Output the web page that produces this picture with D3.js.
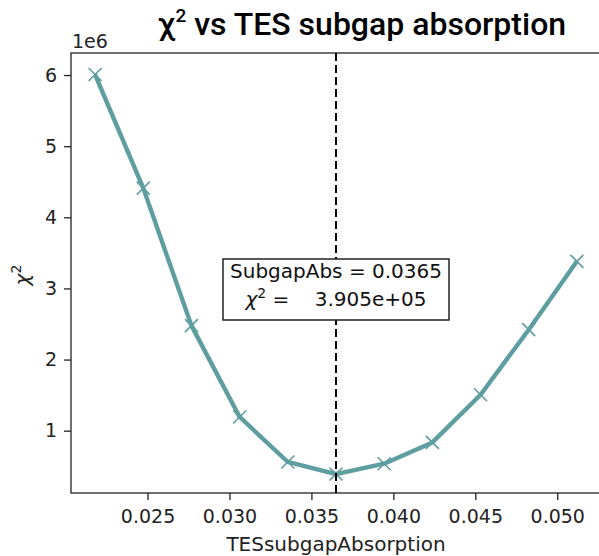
<!DOCTYPE html>
<html>
<head>
<meta charset="utf-8">
<script src="https://cdn.jsdelivr.net/npm/d3@7"></script>
<style>
  html, body { margin: 0; padding: 0; background: #fff; }
  svg { display: block; }
</style>
</head>
<body>
<div id="chart"></div>
<script>
// Scan of TES subgap absorption vs chi-squared
const absorption = [0.0218, 0.02474, 0.02768, 0.03062, 0.03356, 0.0365, 0.03944, 0.04238, 0.04532, 0.04826, 0.0512];
const chi2 = [6.007e6, 4.41e6, 2.477e6, 1.193e6, 0.56e6, 0.3905e6, 0.536e6, 0.835e6, 1.506e6, 2.42e6, 3.381e6];
const xTicks = [0.025, 0.030, 0.035, 0.040, 0.045, 0.050];
const yTicks = [1e6, 2e6, 3e6, 4e6, 5e6, 6e6];
const bestAbs = 0.0365;
const bestChi2 = 3.905e5;

const W = 599, H = 556;
const plot = { left: 71, right: 601, top: 53, bottom: 493 };
const labelFont = "'DejaVu Sans', sans-serif";

const svg = d3.select("#chart").append("svg").attr("width", W).attr("height", H);

const x = d3.scaleLinear().domain([0.02033, 0.05267]).range([plot.left, plot.right]);
const y = d3.scaleLinear().domain([0.124e6, 6.31e6]).range([plot.bottom, plot.top]);

// frame
svg.append("rect")
  .attr("x", plot.left).attr("y", plot.top)
  .attr("width", plot.right - plot.left).attr("height", plot.bottom - plot.top)
  .attr("fill", "none").attr("stroke", "#222").attr("stroke-width", 1.3);

// axes
const xAxis = svg.append("g").attr("transform", `translate(0,${plot.bottom})`)
  .call(d3.axisBottom(x).tickValues(xTicks).tickFormat(d3.format(".3f")).tickSize(7).tickPadding(10));
const yAxis = svg.append("g").attr("transform", `translate(${plot.left},0)`)
  .call(d3.axisLeft(y).tickValues(yTicks).tickFormat(d => d3.format("d")(d / 1e6)).tickSize(7).tickPadding(7));
[xAxis, yAxis].forEach(g => {
  g.select(".domain").remove();
  g.selectAll(".tick line").attr("stroke", "#222").attr("stroke-width", 1.3);
  g.selectAll(".tick text").attr("fill", "#222").style("font-family", labelFont).style("font-size", "19px");
});

// offset label for the y axis
svg.append("text").attr("x", plot.left + 1).attr("y", 48)
  .style("font-family", labelFont).style("font-size", "19px").attr("fill", "#222").text("1e6");

// curve
const line = d3.line().x((d, i) => x(absorption[i])).y(d => y(d));
svg.append("path").datum(chi2)
  .attr("d", line).attr("fill", "none")
  .attr("stroke", "#5f9ea0").attr("stroke-width", 4.4)
  .attr("stroke-linejoin", "round");

// x markers
const ms = 6.5;
svg.append("g").selectAll("path").data(chi2).join("path")
  .attr("d", (d, i) => {
    const cx = x(absorption[i]), cy = y(d);
    return `M${cx - ms},${cy - ms}L${cx + ms},${cy + ms}M${cx - ms},${cy + ms}L${cx + ms},${cy - ms}`;
  })
  .attr("stroke", "#5f9ea0").attr("stroke-width", 1.6).attr("fill", "none");

// best-fit marker line
svg.append("line")
  .attr("x1", x(bestAbs)).attr("x2", x(bestAbs))
  .attr("y1", plot.top).attr("y2", plot.bottom)
  .attr("stroke", "#000").attr("stroke-width", 2).attr("stroke-dasharray", "8,4");

// annotation box
const box = svg.append("g");
const bx = 223, by = 259, bw = 226, bh = 61;
box.append("rect").attr("x", bx).attr("y", by).attr("width", bw).attr("height", bh)
  .attr("fill", "#fff").attr("stroke", "#222").attr("stroke-width", 1.5);
box.append("text").attr("x", bx + bw / 2).attr("y", by + 19).attr("text-anchor", "middle")
  .style("font-family", labelFont).style("font-size", "20px").attr("fill", "#111")
  .text(`SubgapAbs = ${bestAbs}`);
const t2 = box.append("text").attr("x", bx + bw / 2).attr("y", by + 47).attr("text-anchor", "middle")
  .style("font-family", labelFont).style("font-size", "20px").attr("fill", "#111");
t2.append("tspan").style("font-style", "italic").text("χ");
t2.append("tspan").attr("dy", -8).style("font-size", "14px").text("2");
t2.append("tspan").attr("dy", 8).text("\u00a0=\u00a0\u00a0\u00a0\u00a0" + d3.format(".3e")(bestChi2).replace("e+5", "e+05"));

// axis titles
svg.append("text").attr("x", 336).attr("y", 551).attr("text-anchor", "middle")
  .style("font-family", labelFont).style("font-size", "20px").attr("fill", "#222").text("TESsubgapAbsorption");
const yl = svg.append("text").attr("transform", "translate(29,275) rotate(-90)").attr("text-anchor", "middle")
  .style("font-family", labelFont).style("font-size", "20px").attr("fill", "#222");
yl.append("tspan").style("font-style", "italic").text("χ");
yl.append("tspan").attr("dy", -8).style("font-size", "14px").text("2");

// chart title
const title = svg.append("text").attr("x", 158).attr("y", 35)
  .style("font-family", "Roboto, sans-serif").style("font-weight", 500).style("font-size", "32px").attr("fill", "#000");
title.append("tspan").text("χ");
title.append("tspan").attr("dy", -13).style("font-size", "19px").text("2");
title.append("tspan").attr("dy", 13).text(" vs TES subgap absorption");
</script>
</body>
</html>
